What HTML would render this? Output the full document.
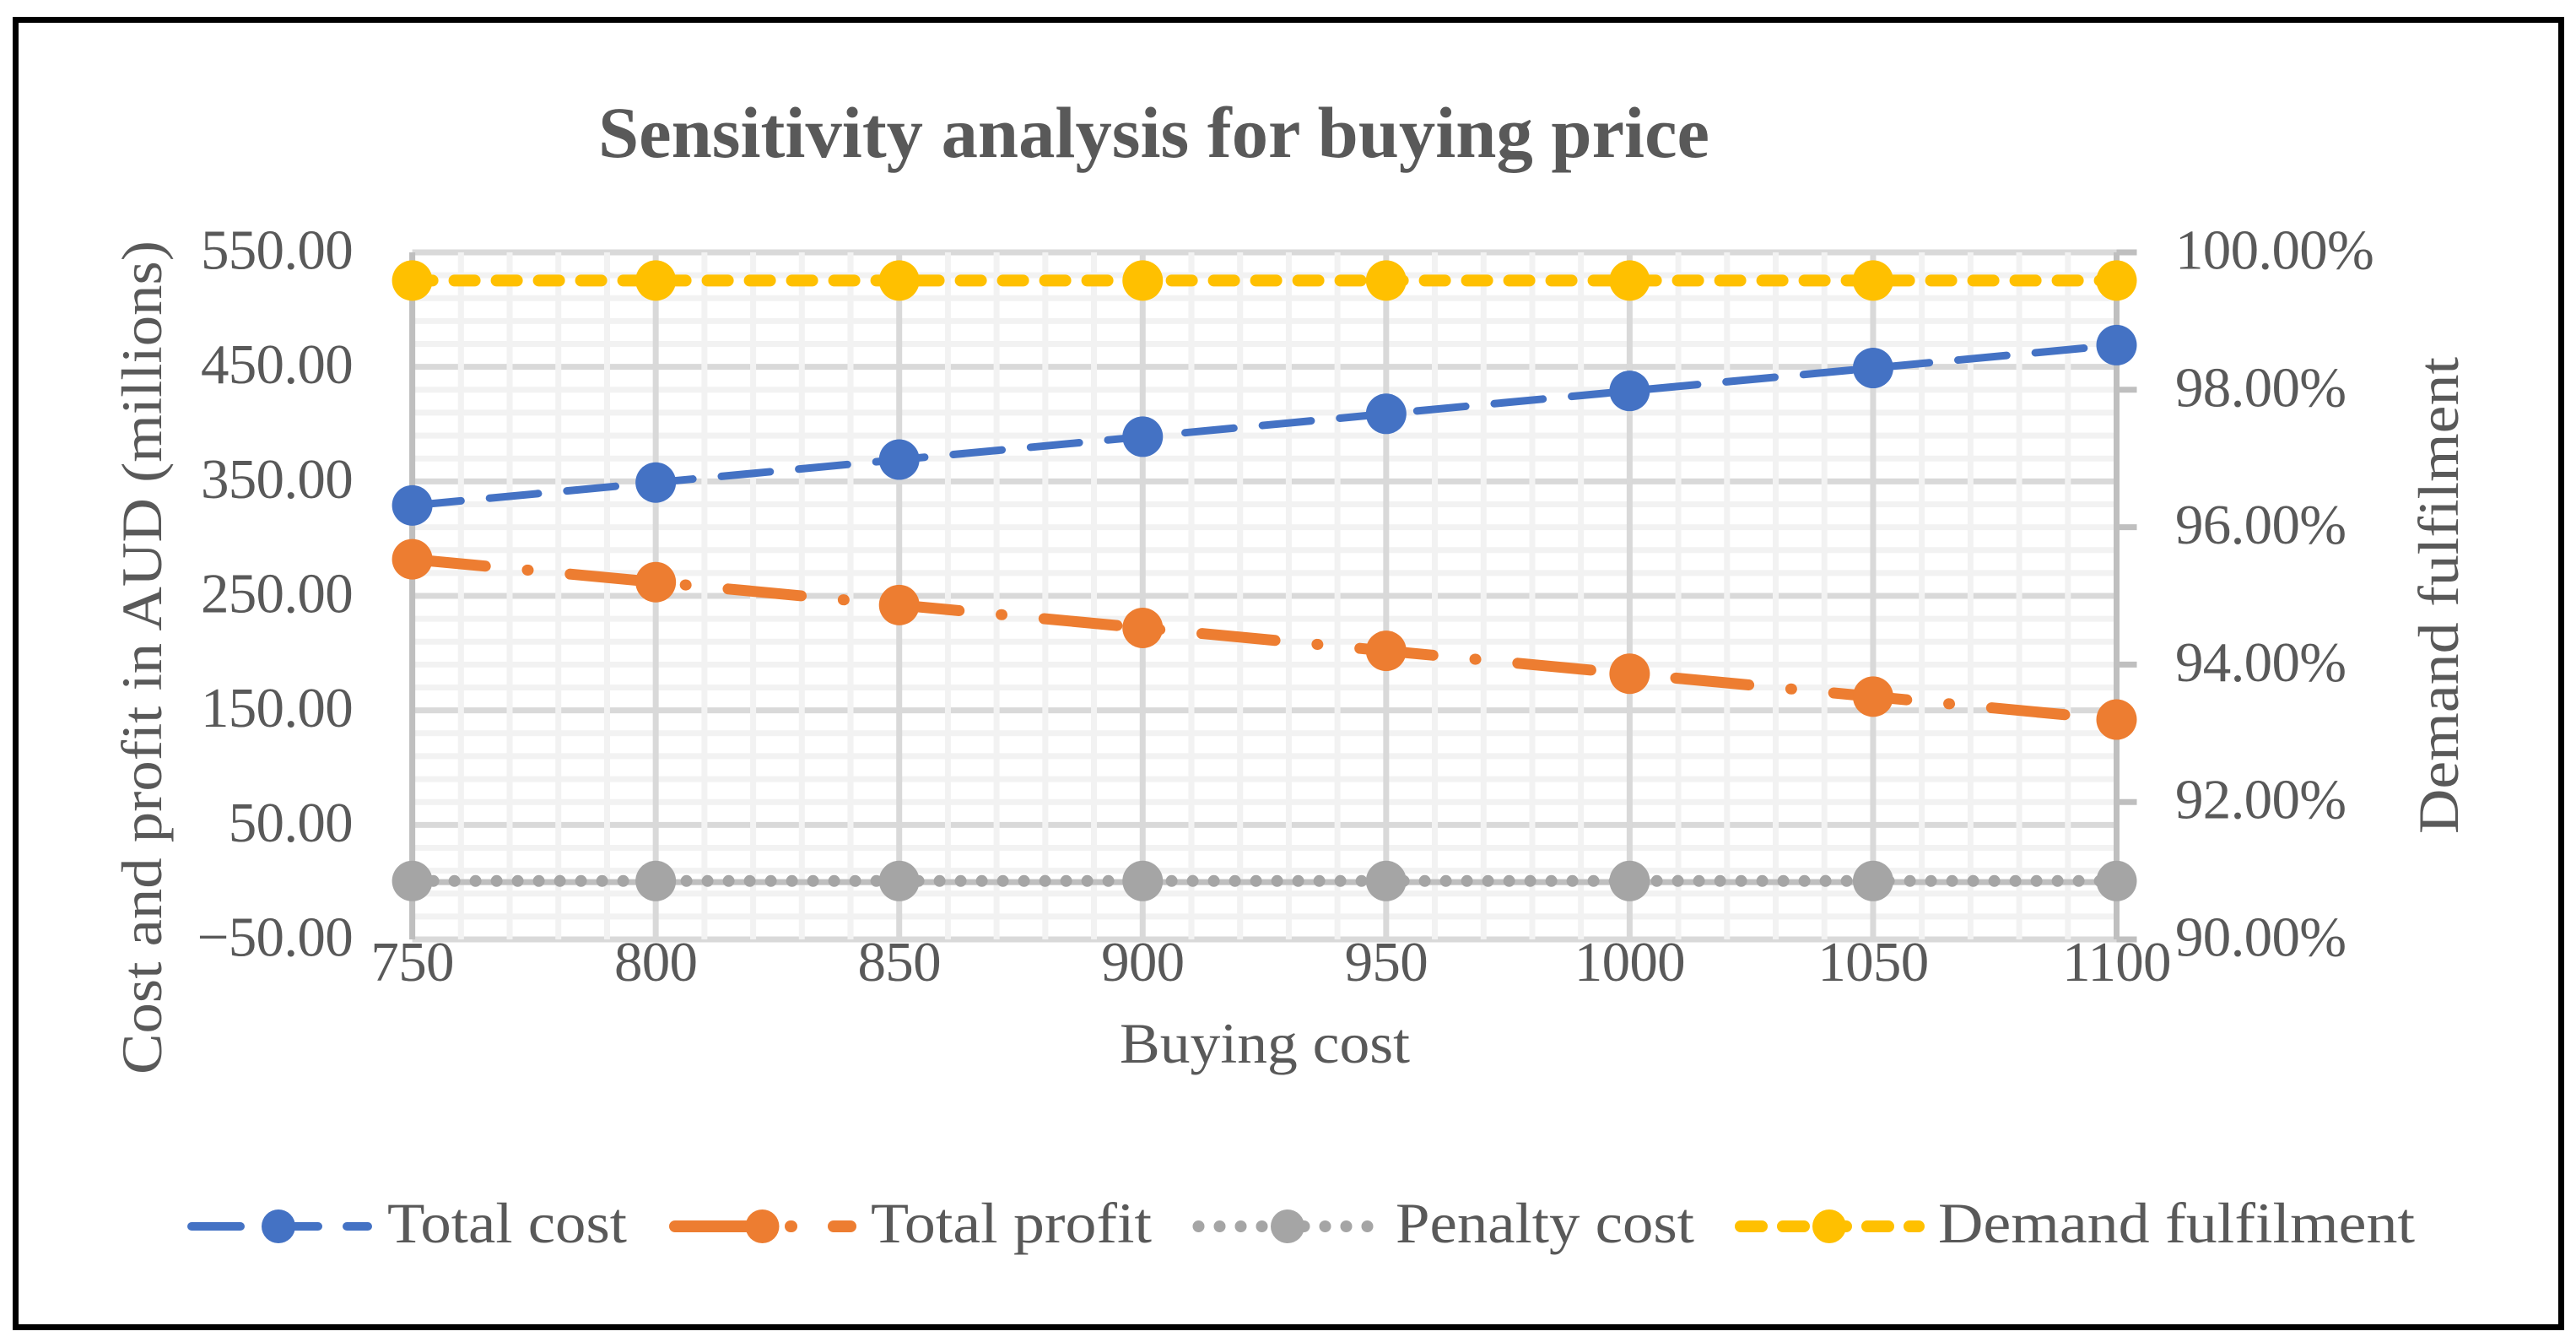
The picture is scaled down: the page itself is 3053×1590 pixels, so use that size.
<!DOCTYPE html>
<html lang="en">
<head>
<meta charset="utf-8">
<title>Sensitivity analysis for buying price</title>
<style>
  html, body { margin: 0; padding: 0; background: #ffffff; }
  svg { display: block; }
  text { font-family: "Liberation Serif", serif; fill: #595959; }
</style>
</head>
<body>
<svg id="chart" xmlns="http://www.w3.org/2000/svg" width="3053" height="1590" viewBox="0 0 3053 1590">
  <rect x="0" y="0" width="3053" height="1590" fill="#ffffff"/>
  <rect x="18.5" y="23.5" width="3017" height="1549" fill="none" stroke="#000000" stroke-width="7"/>
  <text x="709" y="186" font-size="86" font-weight="bold" textLength="1317" lengthAdjust="spacingAndGlyphs">Sensitivity analysis for buying price</text>
  <g id="grid"></g>
  <g id="axes"></g>
  <g id="series"></g>
  <g id="ticks"></g>
  <text x="1327" y="1259" font-size="68" textLength="344" lengthAdjust="spacingAndGlyphs">Buying cost</text>
  <text transform="translate(191 1273) rotate(-90)" x="0" y="0" font-size="68" textLength="988" lengthAdjust="spacingAndGlyphs">Cost and profit in AUD (millions)</text>
  <text transform="translate(2913 988) rotate(-90)" x="0" y="0" font-size="68" textLength="565" lengthAdjust="spacingAndGlyphs">Demand fulfilment</text>

  <g>
    <g>
      <line x1="227" y1="1453" x2="436" y2="1453" stroke="#4472c4" stroke-width="10" stroke-linecap="round" stroke-dasharray="58 34"/>
      <circle cx="330" cy="1453" r="20" fill="#4472c4"/>
      <text x="459" y="1472" font-size="68" textLength="284" lengthAdjust="spacingAndGlyphs">Total cost</text>
    </g>
    <g>
      <line x1="800" y1="1453" x2="1008" y2="1453" stroke="#ed7d31" stroke-width="14" stroke-linecap="round" stroke-dasharray="87 50 1 50"/>
      <circle cx="903.500" cy="1453" r="20" fill="#ed7d31"/>
      <text x="1032" y="1472" font-size="68" textLength="333" lengthAdjust="spacingAndGlyphs">Total profit</text>
    </g>
    <g>
      <line x1="1420.500" y1="1453" x2="1622" y2="1453" stroke="#a5a5a5" stroke-width="14" stroke-linecap="round" stroke-dasharray="0.01 24.99"/>
      <circle cx="1526" cy="1453" r="20" fill="#a5a5a5"/>
      <text x="1654" y="1472" font-size="68" textLength="354" lengthAdjust="spacingAndGlyphs">Penalty cost</text>
    </g>
    <g>
      <line x1="2063" y1="1453" x2="2274" y2="1453" stroke="#ffc000" stroke-width="14" stroke-linecap="round" stroke-dasharray="25 25"/>
      <circle cx="2168" cy="1453" r="20" fill="#ffc000"/>
      <text x="2297" y="1472" font-size="68" textLength="565" lengthAdjust="spacingAndGlyphs">Demand fulfilment</text>
    </g>
  </g>
</svg>
<script>
const categories = [750, 800, 850, 900, 950, 1000, 1050, 1100];
const totalCost = [329, 349, 369, 389, 409, 429, 449, 469];
const totalProfit = [282, 262, 242, 222, 202, 182, 162, 142];
const penaltyCost = [1, 1, 1, 1, 1, 1, 1, 1];
const demandFulfilment = [99.59, 99.59, 99.59, 99.59, 99.59, 99.59, 99.59, 99.59];
const leftTicks = [550, 450, 350, 250, 150, 50, -50];
const rightTicks = [100, 98, 96, 94, 92, 90];
const xMin = 750, xMax = 1100, yMin = -50, yMax = 550, y2Min = 90, y2Max = 100;
const plotL = 488.6, plotR = 2508.5, plotT = 299, plotB = 1113;

const NS = 'http://www.w3.org/2000/svg';
function xScale(v) { return plotL + (v - xMin) / (xMax - xMin) * (plotR - plotL); }
function yScale(v) { return plotB - (v - yMin) / (yMax - yMin) * (plotB - plotT); }
function y2Scale(v) { return plotB - (v - y2Min) / (y2Max - y2Min) * (plotB - plotT); }
function make(tag, attrs, parent) {
  const el = document.createElementNS(NS, tag);
  for (const k in attrs) el.setAttribute(k, attrs[k]);
  parent.appendChild(el);
  return el;
}
function drawLine(parent, x1, y1, x2, y2, color, name) {
  const el = make('line', { x1: x1, y1: y1, x2: x2, y2: y2, stroke: color, 'stroke-width': 7 }, parent);
  
  
  return el;
}

const grid = document.getElementById('grid');
const axes = document.getElementById('axes');
const seriesLayer = document.getElementById('series');
const ticks = document.getElementById('ticks');

// horizontal gridlines
const hStep = 20;
for (let v = yMin; v <= yMax; v += hStep) {
  const isMajor = (v - yMin) % 100 === 0;
  drawLine(grid, plotL, yScale(v), plotR, yScale(v), isMajor ? '#d9d9d9' : '#f2f2f2', isMajor ? 'major-h-gridline' : 'minor-h-gridline');
}
// vertical gridlines
const vStep = 10;
for (let v = xMin; v <= xMax; v += vStep) {
  const isMajor = (v - xMin) % 50 === 0;
  if (isMajor) continue;
  drawLine(grid, xScale(v), plotT, xScale(v), plotB, '#f2f2f2', 'minor-v-gridline');
}
categories.forEach(function (c) {
  drawLine(grid, xScale(c), plotT, xScale(c), plotB, '#d9d9d9', 'major-v-gridline');
});

// axes
drawLine(axes, xScale(xMin), plotT, xScale(xMin), plotB, '#bfbfbf', 'primary-y-axis');
drawLine(axes, xScale(xMax), plotT, xScale(xMax), plotB, '#bfbfbf', 'secondary-y-axis');
drawLine(axes, plotL, yScale(0), plotR, yScale(0), '#bfbfbf', 'x-axis-line');
rightTicks.forEach(function (t) {
  drawLine(axes, plotR, y2Scale(t), plotR + 24, y2Scale(t), '#bfbfbf', 'secondary-axis-tick');
});

// series
const seriesDefs = [
  { name: 'total-cost', values: totalCost, scale: yScale, color: '#4472c4', width: 9, dash: '58 34' },
  { name: 'total-profit', values: totalProfit, scale: yScale, color: '#ed7d31', width: 13, dash: '87 50 1 50' },
  { name: 'penalty-cost', values: penaltyCost, scale: yScale, color: '#a5a5a5', width: 14, dash: '0.01 24.99' },
  { name: 'demand-fulfilment', values: demandFulfilment, scale: y2Scale, color: '#ffc000', width: 14, dash: '24 26' }
];
seriesDefs.forEach(function (s) {
  const pts = s.values.map(function (v, i) { return xScale(categories[i]) + ',' + s.scale(v); }).join(' ');
  const line = make('polyline', {
    points: pts, fill: 'none', stroke: s.color, 'stroke-width': s.width,
    'stroke-linecap': 'round', 'stroke-linejoin': 'round', 'stroke-dasharray': s.dash
  }, seriesLayer);
  
  
  s.values.forEach(function (v, i) {
    const dot = make('circle', { cx: xScale(categories[i]), cy: s.scale(v), r: 24, fill: s.color }, seriesLayer);
    
    
  });
});

// tick labels
function label(parent, str, x, y, anchor, name) {
  const t = make('text', { x: x, y: y, 'font-size': 67, 'letter-spacing': '-0.7', 'text-anchor': anchor }, parent);
  
  
  t.textContent = str;
  return t;
}
leftTicks.forEach(function (t) {
  const str = (t < 0 ? '\u2212' : '') + Math.abs(t).toFixed(2);
  label(ticks, str, 418, yScale(t) + 19.5, 'end', 'y-tick-label');
});
rightTicks.forEach(function (t) {
  label(ticks, t.toFixed(2) + '%', 2578, y2Scale(t) + 19.5, 'start', 'secondary-y-tick-label');
});
categories.forEach(function (c) {
  label(ticks, String(c), xScale(c), 1162, 'middle', 'x-tick-label');
});
</script>
</body>
</html>
